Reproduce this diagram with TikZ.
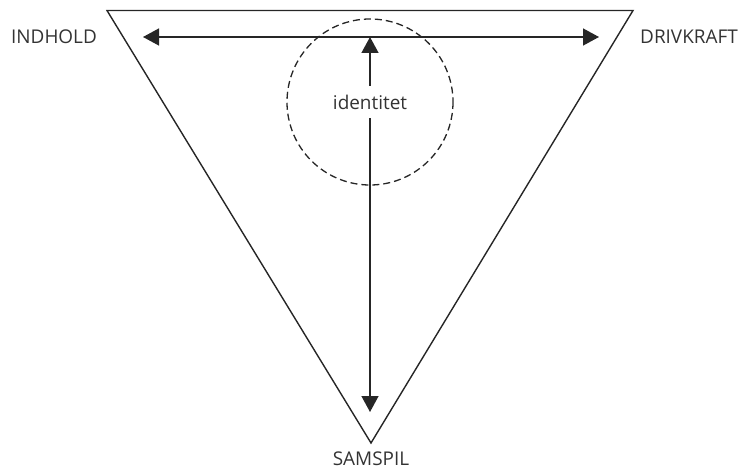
\documentclass[tikz,border=0pt]{standalone}
\usepackage{fontspec}
\setmainfont{Open Sans}
\usetikzlibrary{arrows.meta}

\begin{document}
\begin{tikzpicture}[
  x=1bp,y=-1bp,
  >={Triangle[length=16bp,width=17bp]},
  frame/.style={draw=black!85, line width=1.4bp, line join=miter},
  pointer/.style={<->, draw=black!85, line width=1.4bp},
  ring/.style={draw=black!85, line width=1.3bp, dash pattern=on 7bp off 4bp},
  corner/.style={font=\fontsize{19}{20}\selectfont, text=black!80, inner sep=0pt},
  centre/.style={font=\fontsize{19}{20}\selectfont, text=black!80, fill=white,
    inner xsep=2bp, inner ysep=9bp}
]
\path[use as bounding box] (0,0) rectangle (745,471);

% Triangle
\coordinate (TL) at (107,10.5);
\coordinate (TR) at (633,10.5);
\coordinate (BT) at (371,443);
\draw[frame] (TL) -- (TR) -- (BT) -- cycle;

% Dashed circle round the label
\draw[ring] (370,102) circle[radius=83];

% Arrows
\coordinate (L) at (143,37);
\coordinate (R) at (599,37);
\coordinate (T) at (370,37);
\coordinate (B) at (370,412);
\draw[pointer] (L) -- (R);
\draw[pointer] (T) -- (B);

% Labels
\node[corner] (indhold) at (54,37) {INDHOLD};
\node[corner] (drivkraft) at (689,37) {DRIVKRAFT};
\node[corner] (samspil) at (371,459) {SAMSPIL};
\node[centre] (identitet) at (370,102) {identitet};

\end{tikzpicture}
\end{document}
